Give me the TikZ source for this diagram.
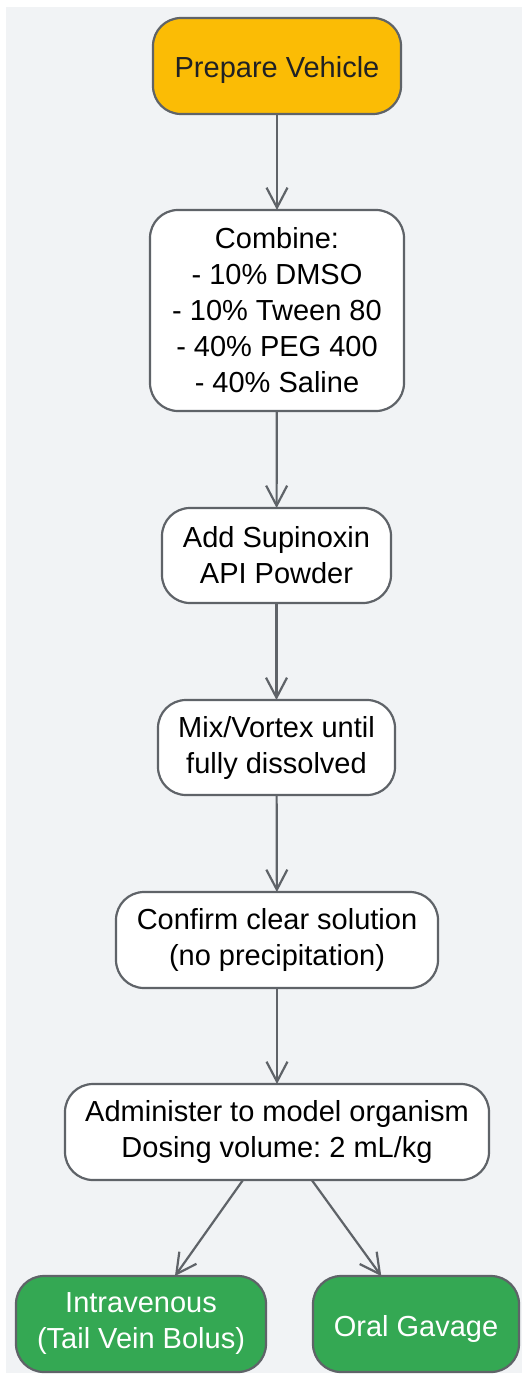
\documentclass[tikz,border=0pt]{standalone}
\usepackage{fontspec}
\setmainfont{Liberation Sans}
\usetikzlibrary{arrows.meta}
\frenchspacing
\definecolor{edgegray}{HTML}{5F6368}
\definecolor{bggray}{HTML}{F1F3F5}
\definecolor{startyellow}{HTML}{FBBC05}
\definecolor{endgreen}{HTML}{34A853}
\definecolor{darktext}{HTML}{202124}
\begin{document}
\begin{tikzpicture}[x=1pt,y=-1pt,line width=2.2pt,
  box/.style={draw=edgegray,fill=white,rounded corners=28pt,align=center,inner sep=0pt,outer sep=0pt,font=\fontsize{29}{36}\selectfont},
  oneline/.style={text height=24pt,text depth=0pt},
  flow/.style={draw=edgegray,-{Straight Barb[length=20pt,width=21pt]}}]
\path[use as bounding box] (0,0) rectangle (522,1375);
\fill[bggray] (6,7.5) rectangle (522,1373);
\node[box,oneline,fill=startyellow,text=darktext,minimum width=248pt,minimum height=96pt] (prep) at (277,66) {Prepare Vehicle};
\node[box,minimum width=254pt,minimum height=201pt] (combine) at (277,310.5) {Combine:\\- 10\% DMSO\\- 10\% Tween 80\\- 40\% PEG 400\\- 40\% Saline};
\node[box,minimum width=229pt,minimum height=95pt] (addapi) at (276.5,555.5) {Add Supinoxin\\API Powder};
\node[box,minimum width=237pt,minimum height=95pt] (mix) at (276.5,747.5) {Mix/Vortex until\\fully dissolved};
\node[box,minimum width=322pt,minimum height=96pt] (confirm) at (277,940) {Confirm clear solution\\(no precipitation)};
\node[box,minimum width=424pt,minimum height=96pt] (admin) at (277,1132) {Administer to model organism\\Dosing volume: 2 mL/kg};
\node[box,fill=endgreen,text=white,minimum width=250pt,minimum height=96pt] (iv) at (141,1324) {Intravenous\\(Tail Vein Bolus)};
\node[box,oneline,fill=endgreen,text=white,minimum width=206pt,minimum height=96pt] (oral) at (416,1324) {Oral Gavage};
\draw[flow] (prep) -- (combine);
\draw[flow] (combine) -- (addapi);
\draw[flow] (addapi) -- (mix);
\draw[flow] (mix) -- (confirm);
\draw[flow] (confirm) -- (admin);
\draw[flow] (admin) -- (iv);
\draw[flow] (admin) -- (oral);
\end{tikzpicture}
\end{document}
